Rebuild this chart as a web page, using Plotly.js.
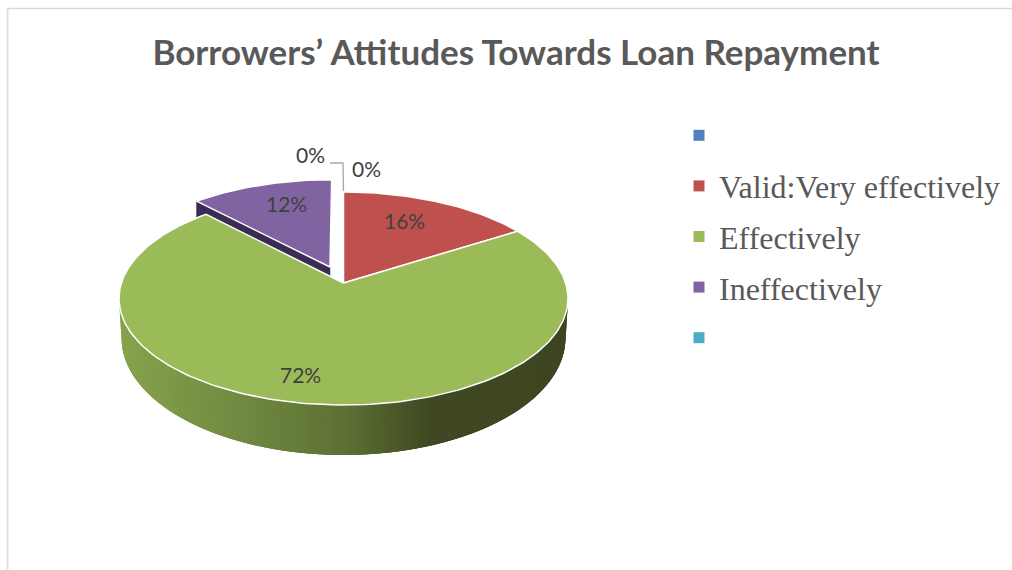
<!DOCTYPE html>
<html>
<head>
<meta charset="utf-8">
<script src="https://cdn.plot.ly/plotly-3.0.1.min.js"></script>
<style>html,body{margin:0;padding:0;background:#fff}#chart{width:1012px;height:570px}</style>
</head>
<body>
<div id="chart"></div>
<script>
// ---- data ----
const categories = ["\u00a0", "Valid:Very effectively", "Effectively", "Ineffectively", "\u00a0"];
const values = [0, 16, 72, 12, 0];
const colors = ["#4F81BD", "#C0504D", "#9BBB59", "#8064A2", "#4BACC6"];
const titleText = "Borrowers’ Attitudes Towards Loan Repayment";

// ---- styling / projection constants ----
const CX = 343.5, CY = 298.5, RX = 224.5, RY = 106.5;   // outline of the tilted top face
const TILT = 0.1455;                                    // perspective shift of the pie centre
const BOT = {cx: 343.5, cy: 338, rx: 222, ry: 117};     // outline of the lower rim
const PULL = 0.169;                                     // explosion of the "Ineffectively" slice
const EXTRUDE = 38;
const wallStops = [[119,"#86a34d"],[250,"#6f873f"],[345,"#5c7034"],[430,"#3f4822"],[568,"#3d4620"]];
const labelPos = [[310,154.5],[366,168.5],[404,220.5],[300,374.5],[286,203.5]];

function project(u, v) {            // disc coords (v up) -> page through the x/y axes
  const d = 1 + TILT * v;
  return [CX + RX * u * Math.sqrt(1 - TILT * TILT) / d, CY - RY * (v + TILT) / d];
}
function hex(c){return [1,3,5].map(i=>parseInt(c.substr(i,2),16));}
function wallColor(x){
  for(let i=1;i<wallStops.length;i++){
    if(x<=wallStops[i][0]){
      const [x0,c0]=wallStops[i-1],[x1,c1]=wallStops[i];
      const f=Math.max(0,(x-x0)/(x1-x0)),a=hex(c0),b=hex(c1);
      return "rgb("+a.map((q,k)=>Math.round(q+(b[k]-q)*f)).join(",")+")";
    }
  }
  return wallStops[wallStops.length-1][1];
}
const total = values.reduce((a,b)=>a+b,0);
function sliceOutline(startPct, pct, pull){
  const s=startPct/total*2*Math.PI, e=(startPct+pct)/total*2*Math.PI, m=(s+e)/2;
  const ox=pull*Math.sin(m), oy=pull*Math.cos(m);
  const pts=[project(ox,oy)], n=Math.max(12,Math.round(pct*3));
  for(let i=0;i<=n;i++){
    const t=s+(e-s)*i/n;
    pts.push(project(ox+Math.sin(t),oy+Math.cos(t)));
  }
  pts.push(pts[0]);
  return pts;
}
const traces=[];
function poly(pts,fill,line,width){
  traces.push({type:"scatter",mode:"lines",x:pts.map(p=>p[0]),y:pts.map(p=>p[1]),fill:"toself",
    fillcolor:fill,line:{color:line,width:width},showlegend:false,hoverinfo:"skip"});
}
// front wall of the green slice, as overlapping strips shaded left to right
// (each strip reaches under the next one so that no seams show)
const STRIPS=120;
const T=t=>[CX+RX*Math.sin(t),CY+RY*Math.cos(t)];
const B=t=>[BOT.cx+BOT.rx*Math.sin(t),BOT.cy+BOT.ry*Math.cos(t)];
for(let i=0;i<STRIPS;i++){
  const a=(-90+180*i/STRIPS)*Math.PI/180;
  const mid=(-90+180*(i+0.5)/STRIPS)*Math.PI/180;
  const b=(-90+180*Math.min(STRIPS,i+3)/STRIPS)*Math.PI/180;
  const c=wallColor(T(mid)[0]);
  poly([T(a),T(mid),T(b),B(b),B(mid),B(a),T(a)],c,c,0);
}
// cumulative starts
const starts=[];values.reduce((acc,v,i)=>{starts[i]=acc;return acc+v;},0);
// dark cut face of the pulled purple slice
const purple=sliceOutline(starts[3],values[3],PULL);
const apex=purple[0],corner=purple[1];
poly([apex,corner,[corner[0],corner[1]+EXTRUDE],[apex[0],apex[1]+EXTRUDE],apex],"#3a2c52","#3a2c52",0.5);
// top faces
poly(purple,colors[3],"#ffffff",1.5);
poly(sliceOutline(starts[1],values[1],0),colors[1],"#ffffff",1.5);
poly(sliceOutline(starts[2],values[2],0),colors[2],"#ffffff",1.5);
// leader line of the zero labels
traces.push({type:"scatter",mode:"lines",x:[330,343,343.5],y:[163,163,191],line:{color:"#a6a6a6",width:1.3},showlegend:false,hoverinfo:"skip"});
// legend entries
categories.forEach((name,i)=>{
  traces.push({type:"scatter",mode:"markers",x:[null],y:[null],name:name,legendgroup:"g"+i,
    marker:{symbol:"square",size:11,color:colors[i]},hoverinfo:"skip"});
});
// percentage labels
const order=[0,4,1,2,3];
const annotations=order.map((idx,i)=>({x:labelPos[i][0],y:labelPos[i][1],xref:"x",yref:"y",
  text:values[idx]+"%",showarrow:false,xanchor:"center",yanchor:"middle",
  font:{family:"Lato, sans-serif",size:21,color:"#404040"}}));

const layout={
  width:1012,height:570,margin:{l:0,r:0,t:0,b:0},paper_bgcolor:"#ffffff",plot_bgcolor:"#ffffff",
  title:{text:titleText,x:516/1012,xanchor:"center",y:1-53/570,yanchor:"middle",
    font:{family:"Lato, sans-serif",size:35,weight:700,color:"#595959"}},
  xaxis:{range:[0,1012],visible:false,fixedrange:true},
  yaxis:{range:[570,0],visible:false,fixedrange:true},
  showlegend:true,
  legend:{x:679/1012,xanchor:"left",y:1-108/570,yanchor:"top",bgcolor:"rgba(0,0,0,0)",
    font:{family:"Liberation Serif, serif",size:32,color:"#595959"},
    itemwidth:30,tracegroupgap:6,traceorder:"grouped",itemclick:false,itemdoubleclick:false},
  annotations:annotations,
  shapes:[
    {type:"line",xref:"x",yref:"y",x0:7,x1:1012,y0:8.5,y1:8.5,line:{color:"#d9d9d9",width:1.5}},
    {type:"line",xref:"x",yref:"y",x0:7.5,x1:7.5,y0:8,y1:570,line:{color:"#e2e2e2",width:2}}
  ],
  hovermode:false
};
Plotly.newPlot("chart",traces,layout,{displayModeBar:false});
</script>
</body>
</html>
